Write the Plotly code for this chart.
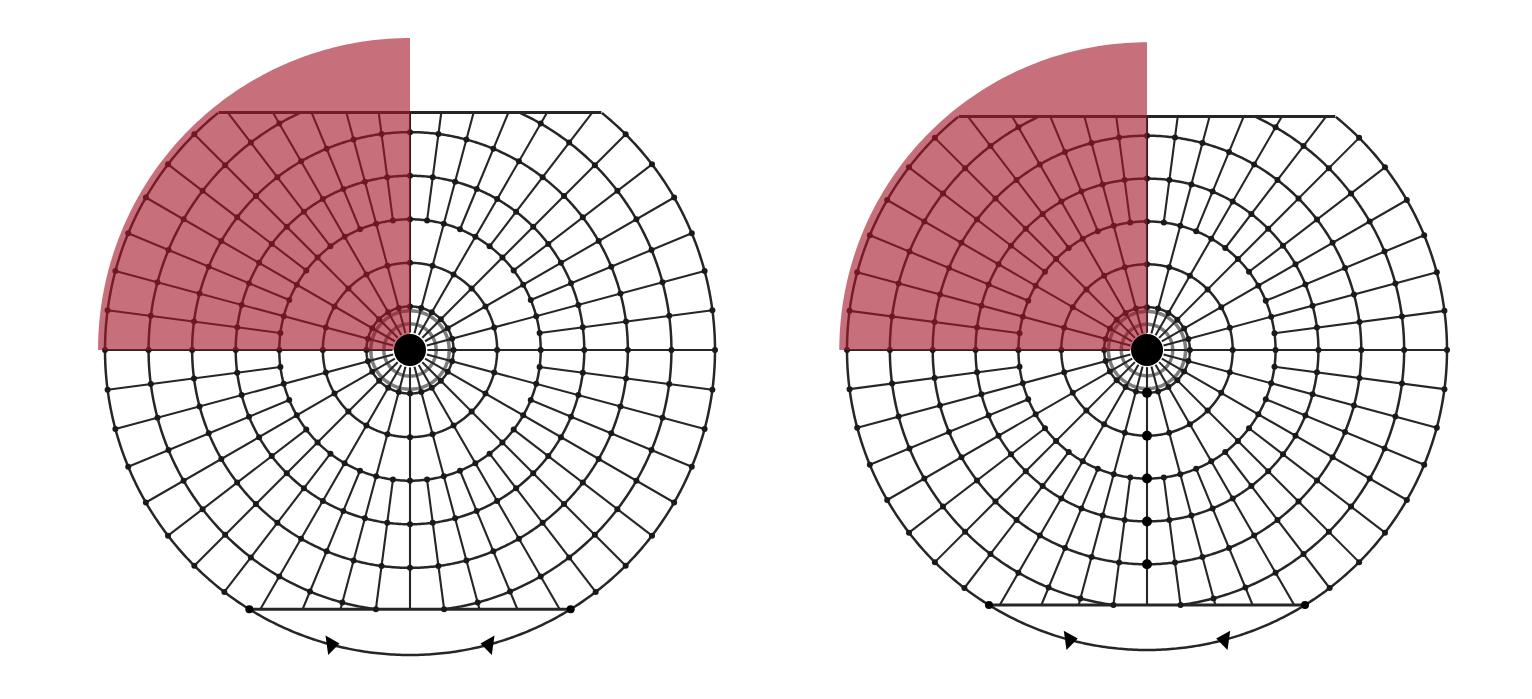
import numpy as np
import plotly.graph_objects as go

# ---------------- data (degrees of visual field) ----------------
ring_radii = [10, 20, 30, 40, 50, 60, 70]          # isopter rings, 70 = outer boundary
inner_rings = [3, 6, 9]                             # small central rings
main_meridians = [0, 15, 30, 45, 60, 75, 90, 105, 120, 135, 150, 165,
                  180, 195, 210, 225, 240, 255, 270, 285, 300, 315, 330, 345]
minor_meridians = [7.5, 22.5, 37.5, 52.5, 67.5, 82.5, 97.5, 112.5, 127.5, 142.5,
                   157.5, 172.5, 187.5, 202.5, 217.5, 232.5, 247.5, 262.5, 277.5,
                   292.5, 307.5, 322.5, 337.5, 352.5]
main_start = 4        # main meridians start radius
minor_start = 30      # minor meridians start radius
top_limit = 54.5      # superior cut-off (chord)
bottom_limit = 59.5   # inferior cut-off (chord)
outer_radius = 70
marker_angles = [255, 285]   # arrow markers on the inferior arc

charts = ["left", "right"]
defect_theta_start = [90, 90]
defect_theta_end = [180, 180]
defect_radius = [71.6, 71.8]
dotted_meridian = [None, 270]

LINE = "#262626"


def bound(th):
    s = np.sin(np.radians(th))
    r = outer_radius
    if s > 1e-9:
        r = min(r, top_limit / s)
    elif s < -1e-9:
        r = min(r, bottom_limit / -s)
    return r


def inside(r, th, outer=False):
    y = r * np.sin(np.radians(th))
    if outer:
        return y <= top_limit + 1e-9
    return (y <= top_limit + 1e-9) and (y >= -bottom_limit - 1e-9)


fig = go.Figure()


def add_chart(idx, sub):
    # inner gray rings
    rr, tt = [], []
    for R in inner_rings:
        for th in np.arange(0, 361, 2):
            rr.append(R); tt.append(float(th))
        rr.append(None); tt.append(None)
    fig.add_trace(go.Scatterpolar(r=rr, theta=tt, mode="lines", subplot=sub,
                                  line=dict(color="#7d7d7d", width=3.5), hoverinfo="skip"))
    # rings
    rr, tt = [], []
    for R in ring_radii:
        is_outer = R == outer_radius
        for th in np.arange(0, 360.5, 0.5):
            if inside(R, th, outer=is_outer):
                rr.append(R); tt.append(float(th))
            else:
                rr.append(None); tt.append(None)
        rr.append(None); tt.append(None)
    fig.add_trace(go.Scatterpolar(r=rr, theta=tt, mode="lines", subplot=sub,
                                  line=dict(color=LINE, width=2.5), connectgaps=False,
                                  hoverinfo="skip"))
    # meridians
    rr, tt = [], []
    for th, st in [(m, main_start) for m in main_meridians] + [(m, minor_start) for m in minor_meridians]:
        rr += [st, bound(th), None]
        tt += [th, th, None]
    fig.add_trace(go.Scatterpolar(r=rr, theta=tt, mode="lines", subplot=sub,
                                  line=dict(color=LINE, width=2.1), connectgaps=False,
                                  hoverinfo="skip"))
    # chords
    xt = np.sqrt(outer_radius**2 - top_limit**2)
    xs = np.linspace(-xt, xt, 60)
    fig.add_trace(go.Scatterpolar(r=np.hypot(xs, top_limit), theta=np.degrees(np.arctan2(top_limit, xs)),
                                  mode="lines", subplot=sub, line=dict(color=LINE, width=3),
                                  hoverinfo="skip"))
    xb = np.sqrt(outer_radius**2 - bottom_limit**2)
    xs = np.linspace(-xb, xb, 60)
    fig.add_trace(go.Scatterpolar(r=np.hypot(xs, bottom_limit), theta=np.degrees(np.arctan2(-bottom_limit, xs)),
                                  mode="lines", subplot=sub, line=dict(color=LINE, width=3),
                                  hoverinfo="skip"))
    # intersection dots
    dr, dt = [], []
    for th in main_meridians:
        for R in ring_radii:
            if R >= main_start and R <= bound(th) + 1e-6:
                dr.append(R); dt.append(th)
    for th in minor_meridians:
        for R in ring_radii:
            if R >= minor_start and R <= bound(th) + 1e-6:
                dr.append(R); dt.append(th)
    fig.add_trace(go.Scatterpolar(r=dr, theta=dt, mode="markers", subplot=sub,
                                  marker=dict(color="#1a1a1a", size=6), hoverinfo="skip"))
    dm = dotted_meridian[idx]
    if dm is not None:
        pr = [r for r in ring_radii if r < bound(dm)]
        fig.add_trace(go.Scatterpolar(r=pr, theta=[dm] * len(pr), mode="markers", subplot=sub,
                                      marker=dict(color="#000", size=10, symbol="circle"),
                                      hoverinfo="skip"))
    # chord end dots
    fig.add_trace(go.Scatterpolar(r=[outer_radius] * 2,
                                  theta=[float(np.degrees(np.arctan2(-bottom_limit, -xb))),
                                         float(np.degrees(np.arctan2(-bottom_limit, xb)))],
                                  mode="markers", subplot=sub,
                                  marker=dict(color="#000", size=8), hoverinfo="skip"))
    # arrow markers on the arc
    fig.add_trace(go.Scatterpolar(r=[outer_radius] * 2, theta=marker_angles, mode="markers",
                                  subplot=sub,
                                  marker=dict(color="#000", size=17,
                                              symbol=["triangle-right", "triangle-left"],
                                              angle=[-8, 8]),
                                  hoverinfo="skip"))
    # defect sector (red)
    ths = list(np.linspace(defect_theta_start[idx], defect_theta_end[idx], 91))
    fig.add_trace(go.Scatterpolar(r=[0] + [defect_radius[idx]] * len(ths) + [0],
                                  theta=[defect_theta_start[idx]] + ths + [defect_theta_end[idx]],
                                  mode="lines", fill="toself", subplot=sub,
                                  fillcolor="rgba(165,25,42,0.62)",
                                  line=dict(width=0, color="rgba(0,0,0,0)"), hoverinfo="skip"))
    # central blob
    fig.add_trace(go.Scatterpolar(r=[0], theta=[0], mode="markers", subplot=sub,
                                  marker=dict(color="#000", size=32), hoverinfo="skip"))


add_chart(0, "polar")
add_chart(1, "polar2")

W, H = 1532, 699


def dom(cx, cy, radius_px):
    half = radius_px * 75 / outer_radius
    return dict(x=[(cx - half) / W, (cx + half) / W],
                y=[(H - cy - half) / H, (H - cy + half) / H])


polar_common = dict(
    bgcolor="rgba(0,0,0,0)",
    radialaxis=dict(visible=False, range=[0, 75]),
    angularaxis=dict(visible=False, direction="counterclockwise", rotation=0),
)
fig.update_layout(
    width=W, height=H,
    margin=dict(l=0, r=0, t=0, b=0),
    paper_bgcolor="white", plot_bgcolor="white",
    showlegend=False,
    polar=dict(domain=dom(410, 350, 305), **polar_common),
    polar2=dict(domain=dom(1147, 350, 300), **polar_common),
)

fig.write_html("out.html")
